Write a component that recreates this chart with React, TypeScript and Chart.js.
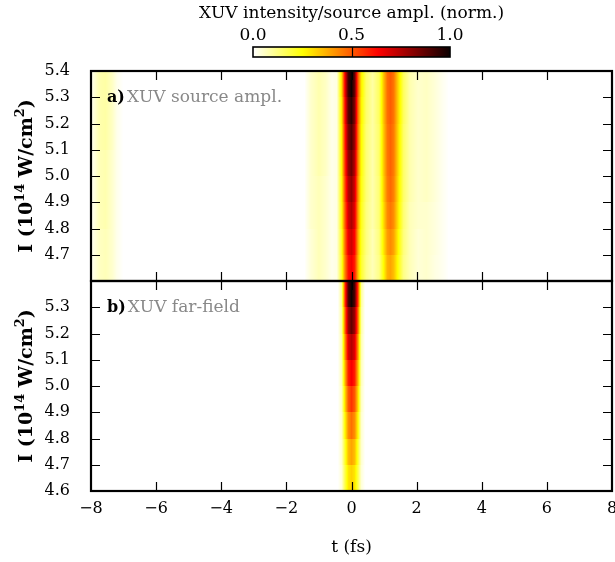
import React, { useEffect, useRef } from "react";
import { Chart, registerables } from "chart.js";

Chart.register(...registerables);

// ---------------- data ----------------
// intensity rows (centres, units 1e14 W/cm^2), each row spans 0.1
const intensityRows = [5.35, 5.25, 5.15, 5.05, 4.95, 4.85, 4.75, 4.65];
const rowSpan = 0.1;

// panel a) XUV source amplitude, sampled along t (fs)
const timeGridA = [
  -8.0, -7.9, -7.75, -7.55, -7.35, -7.2, -7.0, -1.45, -1.25, -1.0, -0.8, -0.6,
  -0.45, -0.3, -0.2, -0.1, 0.0, 0.1, 0.2, 0.3,
  0.45, 0.65, 0.85,
  1.0, 1.1, 1.2, 1.3, 1.45, 1.6, 1.8,
  2.05, 2.3, 2.55, 2.8, 3.0, 8.0,
];
const sourceAmplRows = [
  [0.01, 0.04, 0.08, 0.09, 0.06, 0.02, 0, 0, 0.05, 0.08, 0.06, 0.02, 0.03, 0.3, 0.65, 0.92, 1.0, 0.86, 0.5, 0.28, 0.15, 0.09, 0.16, 0.36, 0.47, 0.5, 0.46, 0.3, 0.16, 0.08, 0.05, 0.06, 0.04, 0.015, 0, 0],
  [0.01, 0.04, 0.08, 0.09, 0.06, 0.02, 0, 0, 0.05, 0.08, 0.06, 0.02, 0.03, 0.28, 0.62, 0.88, 0.95, 0.82, 0.48, 0.27, 0.15, 0.09, 0.16, 0.36, 0.47, 0.5, 0.46, 0.3, 0.16, 0.08, 0.05, 0.06, 0.04, 0.015, 0, 0],
  [0.01, 0.04, 0.08, 0.09, 0.06, 0.02, 0, 0, 0.05, 0.08, 0.06, 0.02, 0.03, 0.27, 0.59, 0.83, 0.9, 0.78, 0.46, 0.26, 0.14, 0.09, 0.15, 0.35, 0.46, 0.49, 0.45, 0.29, 0.15, 0.08, 0.05, 0.06, 0.04, 0.015, 0, 0],
  [0.01, 0.03, 0.07, 0.08, 0.05, 0.02, 0, 0, 0.05, 0.08, 0.06, 0.02, 0.03, 0.26, 0.56, 0.79, 0.85, 0.74, 0.44, 0.25, 0.14, 0.08, 0.15, 0.35, 0.46, 0.49, 0.45, 0.29, 0.15, 0.08, 0.05, 0.06, 0.04, 0.015, 0, 0],
  [0.01, 0.03, 0.07, 0.08, 0.05, 0.02, 0, 0, 0.05, 0.07, 0.05, 0.02, 0.03, 0.25, 0.53, 0.74, 0.8, 0.7, 0.42, 0.24, 0.14, 0.08, 0.14, 0.34, 0.45, 0.48, 0.44, 0.28, 0.15, 0.08, 0.05, 0.06, 0.04, 0.015, 0, 0],
  [0.01, 0.03, 0.07, 0.08, 0.05, 0.02, 0, 0, 0.05, 0.07, 0.05, 0.02, 0.03, 0.24, 0.5, 0.7, 0.76, 0.67, 0.4, 0.23, 0.13, 0.08, 0.14, 0.32, 0.43, 0.46, 0.42, 0.27, 0.14, 0.07, 0.05, 0.05, 0.035, 0.015, 0, 0],
  [0.01, 0.03, 0.06, 0.07, 0.05, 0.02, 0, 0, 0.04, 0.07, 0.05, 0.02, 0.03, 0.22, 0.47, 0.66, 0.71, 0.63, 0.38, 0.22, 0.13, 0.07, 0.13, 0.3, 0.4, 0.43, 0.39, 0.25, 0.13, 0.07, 0.04, 0.05, 0.035, 0.015, 0, 0],
  [0.01, 0.03, 0.06, 0.07, 0.05, 0.02, 0, 0, 0.04, 0.07, 0.05, 0.02, 0.03, 0.21, 0.44, 0.61, 0.66, 0.59, 0.36, 0.21, 0.12, 0.07, 0.12, 0.27, 0.37, 0.39, 0.35, 0.23, 0.12, 0.07, 0.04, 0.05, 0.03, 0.015, 0, 0],
];

// panel b) XUV far-field intensity
const timeGridB = [-8.0, -0.42, -0.3, -0.2, -0.1, 0.0, 0.1, 0.2, 0.3, 0.42, 8.0];
const farFieldRows = [
  [0, 0, 0.1, 0.55, 0.9, 1.0, 0.9, 0.55, 0.1, 0, 0],
  [0, 0, 0.09, 0.48, 0.78, 0.87, 0.78, 0.48, 0.09, 0, 0],
  [0, 0, 0.08, 0.41, 0.68, 0.75, 0.68, 0.41, 0.08, 0, 0],
  [0, 0, 0.07, 0.36, 0.59, 0.65, 0.59, 0.36, 0.07, 0, 0],
  [0, 0, 0.06, 0.31, 0.5, 0.56, 0.5, 0.31, 0.06, 0, 0],
  [0, 0, 0.05, 0.26, 0.42, 0.47, 0.42, 0.26, 0.05, 0, 0],
  [0, 0, 0.05, 0.21, 0.35, 0.39, 0.35, 0.21, 0.05, 0, 0],
  [0, 0, 0.04, 0.18, 0.29, 0.32, 0.29, 0.18, 0.04, 0, 0],
];

const xTickValues = [-8, -6, -4, -2, 0, 2, 4, 6, 8];
const yTicksA = [4.7, 4.8, 4.9, 5.0, 5.1, 5.2, 5.3, 5.4];
const yTicksB = [4.6, 4.7, 4.8, 4.9, 5.0, 5.1, 5.2, 5.3];
const yTickMarks = [4.7, 4.8, 4.9, 5.0, 5.1, 5.2, 5.3];
const colorbarTicks = [0, 0.5, 1];

const colorbarTitle = "XUV intensity/source ampl. (norm.)";
const panelLabels = [
  { tag: "a)", text: "XUV source ampl." },
  { tag: "b)", text: "XUV far-field" },
];
const xTitle = "t (fs)";

// ---------------- helpers ----------------
const SERIF = "'DejaVu Serif', serif";
const TICK = 9;

function hotR(v: number): string {
  const x = 1 - Math.min(1, Math.max(0, v));
  const r = x < 0.365079 ? 0.0416 + ((1 - 0.0416) * x) / 0.365079 : 1;
  const g = x < 0.365079 ? 0 : x < 0.746032 ? (x - 0.365079) / (0.746032 - 0.365079) : 1;
  const b = x < 0.746032 ? 0 : (x - 0.746032) / (1 - 0.746032);
  return `rgb(${Math.round(r * 255)},${Math.round(g * 255)},${Math.round(b * 255)})`;
}

function interp(grid: number[], vals: number[], t: number): number {
  if (t <= grid[0]) return vals[0];
  for (let i = 1; i < grid.length; i++) {
    if (t <= grid[i]) {
      const f = (t - grid[i - 1]) / (grid[i] - grid[i - 1]);
      return vals[i - 1] + f * (vals[i] - vals[i - 1]);
    }
  }
  return vals[vals.length - 1];
}

function drawYTitle(ctx: CanvasRenderingContext2D, cx: number, cy: number) {
  const parts: [string, boolean][] = [
    ["I (10", false],
    ["14", true],
    [" W/cm", false],
    ["2", true],
    [")", false],
  ];
  const big = `bold 19px ${SERIF}`;
  const small = `bold 13px ${SERIF}`;
  let total = 0;
  const widths = parts.map(([s, sup]) => {
    ctx.font = sup ? small : big;
    const w = ctx.measureText(s).width;
    total += w;
    return w;
  });
  ctx.save();
  ctx.translate(cx, cy);
  ctx.rotate(-Math.PI / 2);
  ctx.fillStyle = "#000";
  ctx.textAlign = "left";
  ctx.textBaseline = "alphabetic";
  let xp = -total / 2;
  parts.forEach(([s, sup], i) => {
    ctx.font = sup ? small : big;
    ctx.fillText(s, xp, sup ? -1 : 7);
    xp += widths[i];
  });
  ctx.restore();
}

const heatPlugin = {
  id: "heatmapPanels",
  beforeDatasetsDraw(chart: any) {
    const ctx: CanvasRenderingContext2D = chart.ctx;
    const xs = chart.scales.x;
    const { left, right } = chart.chartArea;
    const panels = [
      { scale: chart.scales.yA, grid: timeGridA, rows: sourceAmplRows },
      { scale: chart.scales.yB, grid: timeGridB, rows: farFieldRows },
    ];
    ctx.save();
    for (const p of panels) {
      p.rows.forEach((vals, i) => {
        const c = intensityRows[i];
        const yTop = Math.round(p.scale.getPixelForValue(c + rowSpan / 2));
        const yBot = Math.round(p.scale.getPixelForValue(c - rowSpan / 2));
        for (let px = Math.floor(left); px < Math.ceil(right); px++) {
          const t = xs.getValueForPixel(px + 0.5);
          const v = interp(p.grid, vals, t);
          if (v <= 0.002) continue;
          ctx.fillStyle = hotR(v);
          ctx.fillRect(px, yTop, 1, yBot - yTop);
        }
      });
    }
    ctx.restore();
  },
  afterDraw(chart: any) {
    const ctx: CanvasRenderingContext2D = chart.ctx;
    const xs = chart.scales.x;
    const { left, right } = chart.chartArea;
    const panels = [chart.scales.yA, chart.scales.yB];
    ctx.save();
    ctx.strokeStyle = "#000";
    panels.forEach((ys: any, k: number) => {
      const top = ys.top;
      const bottom = ys.bottom;
      ctx.lineWidth = 1.2;
      ctx.beginPath();
      for (const v of xTickValues) {
        if (v <= xs.min || v >= xs.max) continue;
        const px = Math.round(xs.getPixelForValue(v)) + 0.5;
        ctx.moveTo(px, top);
        ctx.lineTo(px, top + TICK);
        ctx.moveTo(px, bottom);
        ctx.lineTo(px, bottom - TICK);
      }
      for (const v of yTickMarks) {
        const py = Math.round(ys.getPixelForValue(v)) + 0.5;
        ctx.moveTo(left, py);
        ctx.lineTo(left + TICK, py);
        ctx.moveTo(right, py);
        ctx.lineTo(right - TICK, py);
      }
      ctx.stroke();
      ctx.lineWidth = 2.2;
      ctx.strokeRect(left, top, right - left, bottom - top);

      // panel label
      const lab = panelLabels[k];
      ctx.textBaseline = "middle";
      ctx.textAlign = "left";
      ctx.font = `bold 16px ${SERIF}`;
      ctx.fillStyle = "#000";
      ctx.fillText(lab.tag, left + 16, top + 27);
      const w = ctx.measureText(lab.tag).width;
      ctx.font = `17px ${SERIF}`;
      ctx.fillStyle = "#888888";
      ctx.fillText(lab.text, left + 16 + w + 2, top + 27);

      // y-axis title
      drawYTitle(ctx, 25, (top + bottom) / 2);
    });

    // colour bar
    const cx = (left + right) / 2;
    const cbW = 197;
    const cbL = cx - cbW / 2;
    const cbT = 47;
    const cbH = 10;
    const grad = ctx.createLinearGradient(cbL, 0, cbL + cbW, 0);
    for (let i = 0; i <= 40; i++) grad.addColorStop(i / 40, hotR(i / 40));
    ctx.fillStyle = grad;
    ctx.fillRect(cbL, cbT, cbW, cbH);
    ctx.lineWidth = 1.2;
    ctx.beginPath();
    for (const v of colorbarTicks) {
      if (v <= 0 || v >= 1) continue;
      const px = Math.round(cbL + v * cbW) + 0.5;
      ctx.moveTo(px, cbT);
      ctx.lineTo(px, cbT + cbH);
    }
    ctx.stroke();
    ctx.lineWidth = 1.6;
    ctx.strokeRect(cbL, cbT, cbW, cbH);
    ctx.fillStyle = "#000";
    ctx.textAlign = "center";
    ctx.textBaseline = "middle";
    ctx.font = `17px ${SERIF}`;
    for (const v of colorbarTicks) {
      ctx.fillText(v.toFixed(1), cbL + v * cbW, 36);
    }
    ctx.fillText(colorbarTitle, cx, 14);
    ctx.restore();
  },
};

function fmtX(v: number): string {
  return v < 0 ? "\u2212" + Math.abs(v) : String(v);
}

function zeroPad(s: any) {
  s.paddingLeft = 0;
  s.paddingRight = 0;
  s.paddingTop = 0;
  s.paddingBottom = 0;
}

export default function App() {
  const ref = useRef<HTMLCanvasElement>(null);
  useEffect(() => {
    const tickFont = { family: SERIF, size: 16 };
    const yAxis = (ticks: number[], weight: number) => ({
      type: "linear",
      position: "left",
      stack: "panels",
      stackWeight: 1,
      weight,
      min: 4.6,
      max: 5.4,
      grid: { display: false, drawTicks: false },
      border: { display: false },
      afterBuildTicks: (s: any) => {
        s.ticks = ticks.map((v) => ({ value: v }));
      },
      afterFit: (s: any) => {
        s.width = 91;
        zeroPad(s);
      },
      ticks: {
        autoSkip: false,
        padding: 21,
        color: "#000",
        font: tickFont,
        callback: (v: any) => Number(v).toFixed(1),
      },
    });
    const chart = new Chart(ref.current as HTMLCanvasElement, {
      type: "scatter",
      data: { datasets: [] },
      options: {
        animation: false,
        responsive: false,
        maintainAspectRatio: false,
        events: [],
        layout: { padding: { top: 71, right: 3, bottom: 0, left: 0 } },
        plugins: {
          legend: { display: false },
          tooltip: { enabled: false },
          title: { display: false },
        },
        scales: {
          x: {
            type: "linear",
            position: "bottom",
            min: -8,
            max: 8,
            grid: { display: false, drawTicks: false },
            border: { display: false },
            afterBuildTicks: (s: any) => {
              s.ticks = xTickValues.map((v) => ({ value: v }));
            },
            afterFit: (s: any) => {
              s.height = 71;
              zeroPad(s);
            },
            ticks: {
              autoSkip: false,
              maxRotation: 0,
              padding: 8,
              color: "#000",
              font: tickFont,
              callback: (v: any) => fmtX(Number(v)),
            },
            title: {
              display: true,
              text: xTitle,
              color: "#000",
              font: { family: SERIF, size: 17 },
              padding: { top: 0, bottom: 4 },
            },
          },
          yA: yAxis(yTicksA, 2),
          yB: yAxis(yTicksB, 1),
        } as any,
      },
      plugins: [heatPlugin],
    } as any);
    return () => chart.destroy();
  }, []);
  return (
    <div style={{ position: "fixed", left: 0, top: 0, width: 615, height: 562, background: "#fff" }}>
      <canvas ref={ref} width={615} height={562} style={{ display: "block", width: 615, height: 562 }} />
    </div>
  );
}
